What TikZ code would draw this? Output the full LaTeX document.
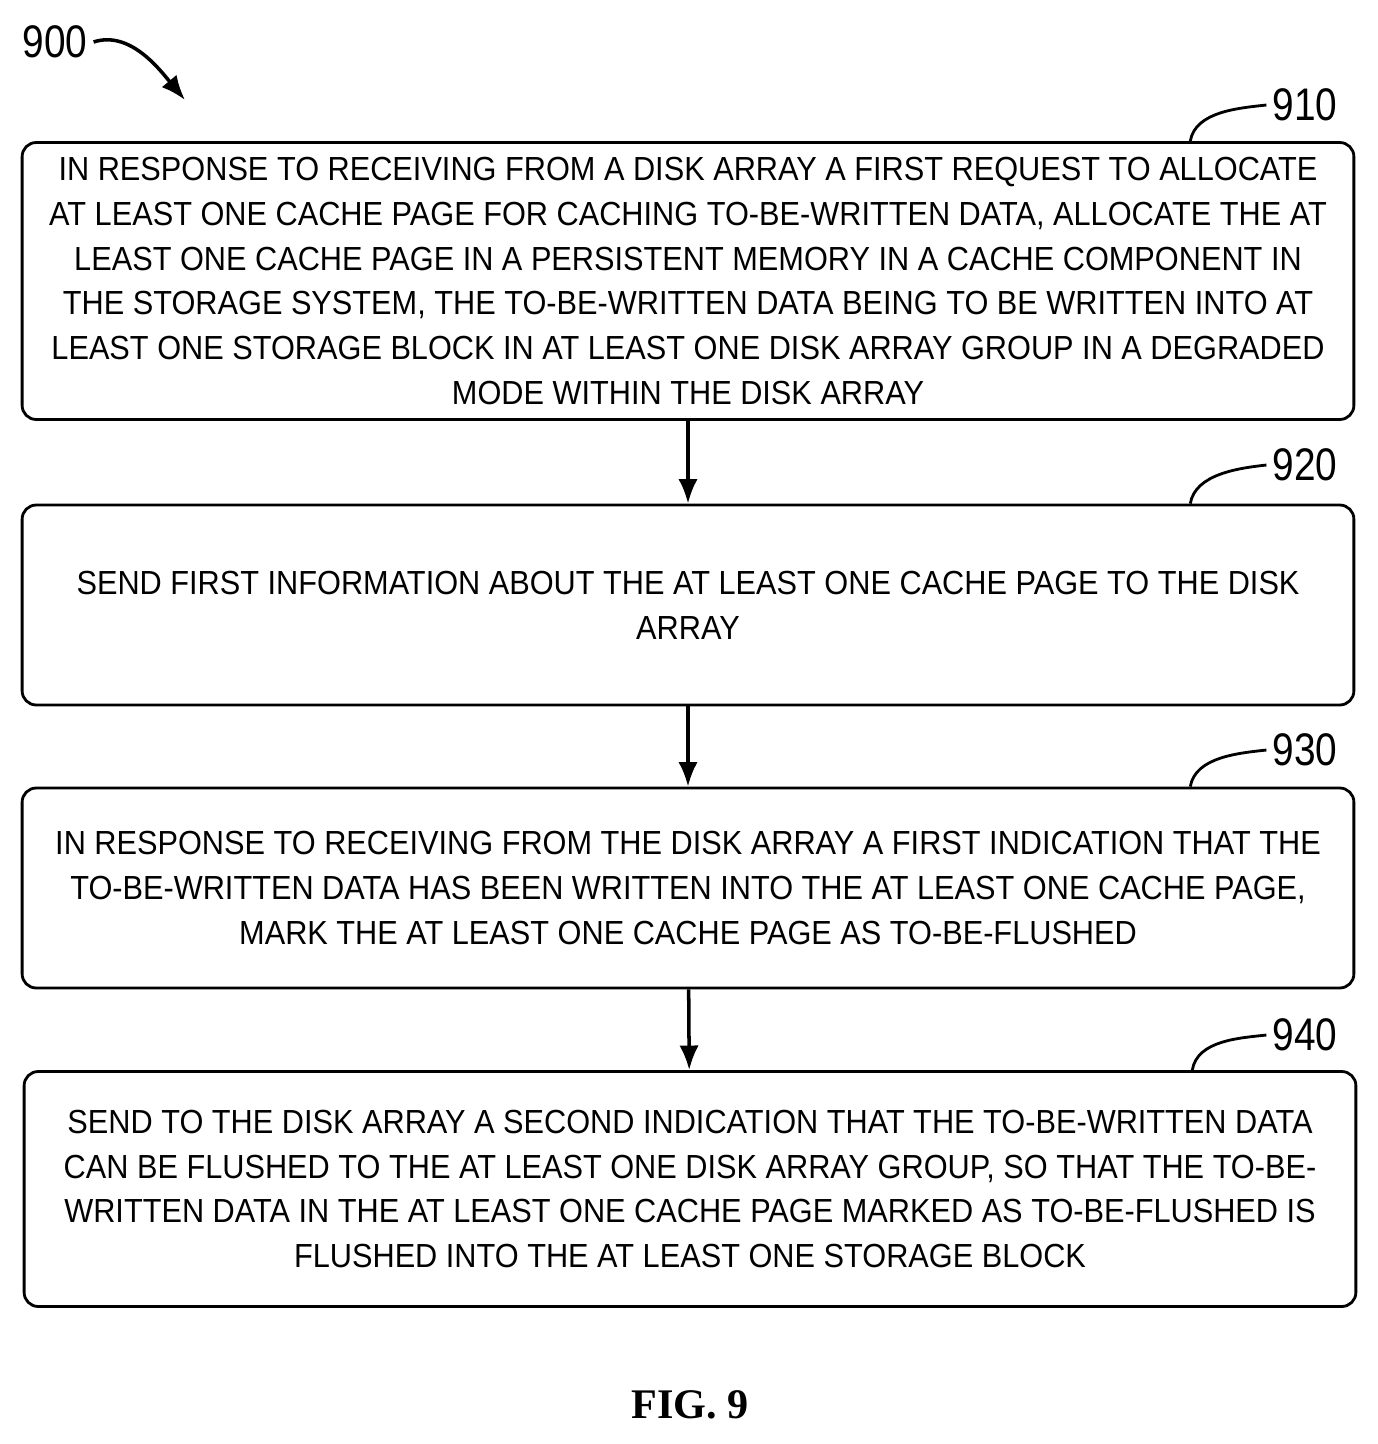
\documentclass[tikz,border=0pt]{standalone}
\usepackage{fontspec}
\setmainfont{Liberation Sans}
\newfontfamily\figfont{Liberation Serif}
\usetikzlibrary{positioning,arrows.meta}
\tikzset{
  stepbox/.style={draw, line width=1.6pt, rounded corners=8pt, minimum width=26.64cm,
    align=center, inner sep=0pt, font=\addfontfeatures{FakeStretch=0.92}\fontsize{19}{25.5}\selectfont},
  reflabel/.style={font=\addfontfeatures{FakeStretch=0.85}\fontsize{26}{30}\selectfont},
  flow/.style={-{Latex[length=14pt,width=11pt]}, line width=2pt}
}
\begin{document}
\begin{tikzpicture}[x=0.02cm,y=-0.02cm]
\useasboundingbox (0,0) rectangle (1378,1444);
% boxes
\node[stepbox, minimum height=5.54cm] (b910) at (688,281) {IN RESPONSE TO RECEIVING FROM A DISK ARRAY A FIRST REQUEST TO ALLOCATE\\AT LEAST ONE CACHE PAGE FOR CACHING TO-BE-WRITTEN DATA, ALLOCATE THE AT\\LEAST ONE CACHE PAGE IN A PERSISTENT MEMORY IN A CACHE COMPONENT IN\\THE STORAGE SYSTEM, THE TO-BE-WRITTEN DATA BEING TO BE WRITTEN INTO AT\\LEAST ONE STORAGE BLOCK IN AT LEAST ONE DISK ARRAY GROUP IN A DEGRADED\\MODE WITHIN THE DISK ARRAY};
\node[stepbox, minimum height=4cm] (b920) at (688,605) {SEND FIRST INFORMATION ABOUT THE AT LEAST ONE CACHE PAGE TO THE DISK\\ARRAY};
\node[stepbox, minimum height=4cm] (b930) at (688,888) {IN RESPONSE TO RECEIVING FROM THE DISK ARRAY A FIRST INDICATION THAT THE\\TO-BE-WRITTEN DATA HAS BEEN WRITTEN INTO THE AT LEAST ONE CACHE PAGE,\\MARK THE AT LEAST ONE CACHE PAGE AS TO-BE-FLUSHED};
\node[stepbox, minimum height=4.7cm] (b940) at (690,1189) {SEND TO THE DISK ARRAY A SECOND INDICATION THAT THE TO-BE-WRITTEN DATA\\CAN BE FLUSHED TO THE AT LEAST ONE DISK ARRAY GROUP, SO THAT THE TO-BE-\\WRITTEN DATA IN THE AT LEAST ONE CACHE PAGE MARKED AS TO-BE-FLUSHED IS\\FLUSHED INTO THE AT LEAST ONE STORAGE BLOCK};
% arrows
\draw[flow] (b910) -- (b920);
\draw[flow] (b920) -- (b930);
\draw[flow] (b930) -- (b940);
% reference numerals
\foreach \n/\y in {910/105, 920/465, 930/750, 940/1035}{
  \node[reflabel] (l\n) at (1305,\y) {\n};
  \draw[line width=1.6pt] (b\n.north east) ++(-165,0) .. controls ++(5,-30) and (1240,\y+3) .. (l\n.west);
}
\node[reflabel] (l900) at (55,42) {900};
\coordinate (t900) at (185,100);
\draw[flow] (l900.east) .. controls (130,30) and (160,70) .. (t900);
\node[font=\figfont\bfseries\fontsize{24}{28}\selectfont] (fig) at (690,1405) {FIG. 9};
\end{tikzpicture}
\end{document}
